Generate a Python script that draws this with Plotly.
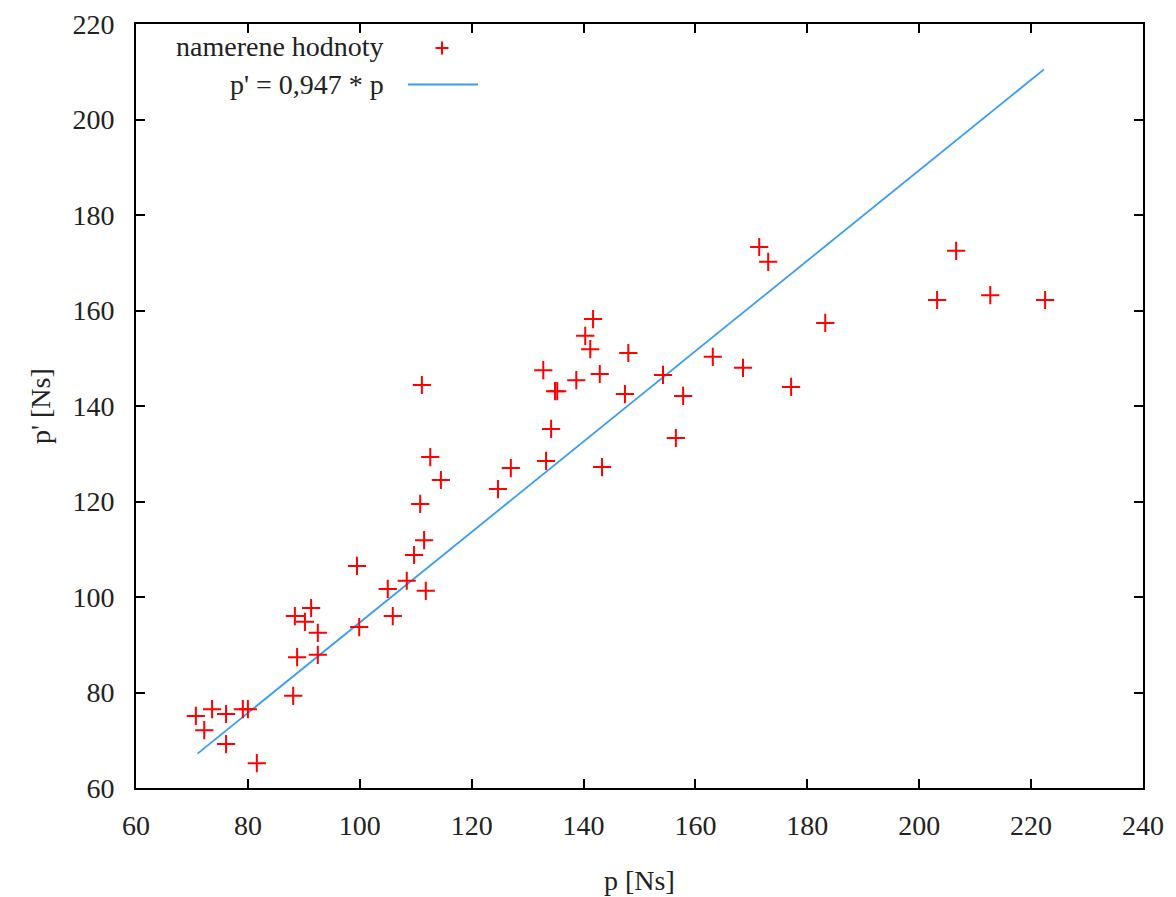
import plotly.graph_objects as go

# measured values (p [Ns], p' [Ns])
p_meas = [70.7, 72.2, 73.6, 76.1, 76.1, 79.1, 80.0, 81.6, 88.1, 88.4,
          88.8, 90.2, 91.3, 92.5, 92.5, 99.5, 99.9, 105.0, 105.9, 108.4,
          109.7, 110.8, 111.1, 111.5, 111.8, 112.6, 114.5, 124.7, 127.0, 132.8,
          133.3, 134.2, 134.9, 135.3, 138.7, 140.3, 141.2, 141.7, 142.9, 143.3,
          147.4, 148.0, 154.2, 156.5, 157.8, 163.1, 168.5, 171.4, 173.0, 177.1,
          183.2, 203.2, 206.6, 212.7, 222.5]
pp_meas = [75.1, 72.1, 76.5, 75.5, 69.2, 76.5, 76.5, 65.2, 79.3, 96.0,
           87.4, 94.8, 97.7, 92.5, 87.9, 106.5, 93.7, 101.7, 96.0, 103.4,
           108.8, 119.5, 144.4, 111.9, 101.3, 129.3, 124.5, 122.6, 127.0, 147.5,
           128.5, 135.2, 143.1, 143.1, 145.4, 154.7, 151.9, 158.2, 146.7, 127.2,
           142.5, 151.1, 146.5, 133.3, 142.1, 150.3, 148.0, 173.3, 170.2, 144.0,
           157.4, 162.2, 172.5, 163.2, 162.2]

# fitted line p' = 0,947 * p (endpoints)
fit_x = [71.0, 222.3]
fit_y = [67.2, 210.5]

x_ticks = [60, 80, 100, 120, 140, 160, 180, 200, 220, 240]
y_ticks = [60, 80, 100, 120, 140, 160, 180, 200, 220]

legend_labels = ["namerene hodnoty", "p' = 0,947 * p"]

RED = "#ff0000"
BLUE = "#3a9bf5"
FONT = "'Liberation Serif', 'Times New Roman', 'DejaVu Serif', serif"
TXT = "#222222"

W, H = 1176, 897
L, R, T, B = 136, 33, 24, 109
PW, PH = W - L - R, H - T - B


def px(xp):
    return (xp - L) / PW


def py(yp):
    return (H - B - yp) / PH


fig = go.Figure()
fig.add_trace(go.Scatter(
    x=fit_x, y=fit_y, mode="lines",
    line=dict(color=BLUE, width=1.8),
    showlegend=False, name=legend_labels[1]))
fig.add_trace(go.Scatter(
    x=p_meas, y=pp_meas, mode="markers",
    marker=dict(symbol="cross-thin", size=13, line=dict(color=RED, width=2)),
    showlegend=False, name=legend_labels[0]))

axis_common = dict(
    showgrid=False, zeroline=False, showline=True, linecolor="black", linewidth=1.6,
    mirror="ticks", ticks="inside", ticklen=9, tickwidth=1.6, tickcolor="black",
    tickfont=dict(family=FONT, size=28, color=TXT),
)

fig.update_xaxes(range=[60, 240], tickvals=x_ticks, ticklabelstandoff=12, **axis_common)
fig.update_yaxes(range=[60, 220], tickvals=y_ticks, ticklabelstandoff=14, **axis_common)

annotations = [
    dict(text="p [Ns]", xref="paper", yref="paper", x=0.5, y=py(880),
         xanchor="center", yanchor="middle", showarrow=False,
         font=dict(family=FONT, size=28, color=TXT)),
    dict(text="p' [Ns]", xref="paper", yref="paper", x=px(40), y=0.5,
         xanchor="center", yanchor="middle", showarrow=False, textangle=-90,
         font=dict(family=FONT, size=28, color=TXT)),
    dict(text=legend_labels[0], xref="paper", yref="paper", x=px(386), y=py(47),
         xanchor="right", yanchor="middle", showarrow=False,
         font=dict(family=FONT, size=28, color=TXT)),
    dict(text=legend_labels[1], xref="paper", yref="paper", x=px(386), y=py(85),
         xanchor="right", yanchor="middle", showarrow=False,
         font=dict(family=FONT, size=28, color=TXT)),
]

shapes = [
    dict(type="line", xref="paper", yref="paper", x0=px(408), x1=px(478),
         y0=py(84.5), y1=py(84.5), line=dict(color=BLUE, width=1.8)),
    dict(type="line", xref="paper", yref="paper", xsizemode="pixel", ysizemode="pixel",
         xanchor=px(442), yanchor=py(48), x0=-6.5, x1=6.5, y0=0, y1=0,
         line=dict(color=RED, width=2)),
    dict(type="line", xref="paper", yref="paper", xsizemode="pixel", ysizemode="pixel",
         xanchor=px(442), yanchor=py(48), x0=0, x1=0, y0=-6.5, y1=6.5,
         line=dict(color=RED, width=2)),
]

fig.update_layout(
    width=W, height=H, margin=dict(l=L, r=R, t=T, b=B, autoexpand=False),
    paper_bgcolor="white", plot_bgcolor="white", showlegend=False,
    annotations=annotations, shapes=shapes,
)

fig.write_html("out.html")
